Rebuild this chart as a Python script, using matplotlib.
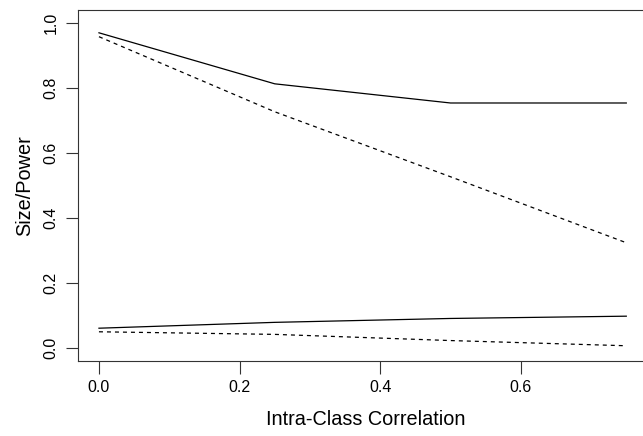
import matplotlib
matplotlib.use("Agg")
import matplotlib.pyplot as plt

plt.rcParams['font.family'] = ['Liberation Sans', 'DejaVu Sans']

icc = [0.0, 0.25, 0.5, 0.75]
power_a = [0.969, 0.812, 0.753, 0.753]
power_b = [0.957, 0.726, 0.526, 0.323]
size_a = [0.060, 0.078, 0.090, 0.097]
size_b = [0.049, 0.041, 0.022, 0.006]

fig = plt.figure(figsize=(6.43, 4.36), dpi=100)
# the right side of the box falls outside the image, as in the reference
ax = fig.add_axes([0.1211, 0.1727, 0.895, 0.805])

dash = (0, (3.2, 3.2))
ax.plot(icc, power_a, color='black', lw=0.9, ls='-')
ax.plot(icc, power_b, color='black', lw=0.9, ls=dash)
ax.plot(icc, size_a, color='black', lw=0.9, ls='-')
ax.plot(icc, size_b, color='black', lw=0.9, ls=dash)

ax.set_xlim(-0.03, 0.7885)
ax.set_ylim(-0.04, 1.04)
ax.set_xticks([0.0, 0.2, 0.4, 0.6])
ax.set_xticklabels(['0.0', '0.2', '0.4', '0.6'])
ax.set_yticks([0.0, 0.2, 0.4, 0.6, 0.8, 1.0])
ax.set_yticklabels(['0.0', '0.2', '0.4', '0.6', '0.8', '1.0'], rotation=90, va='center')
ax.tick_params(direction='out', length=9, width=0.8, labelsize=11.5, color='#333333', pad=5)
for s in ax.spines.values():
    s.set_linewidth(0.8)
    s.set_color('#333333')

ax.set_xlabel('Intra-Class Correlation', fontsize=14.3, labelpad=11)
ax.set_ylabel('Size/Power', fontsize=14.3, labelpad=7)

fig.savefig('out.png', dpi=100)
